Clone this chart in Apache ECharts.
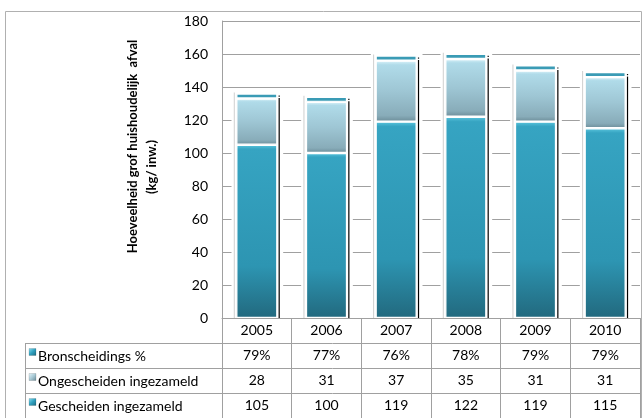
<!DOCTYPE html>
<html>
<head>
<meta charset="utf-8">
<script src="https://cdn.jsdelivr.net/npm/echarts@6/dist/echarts.min.js"></script>
<style>
html,body{margin:0;padding:0;background:#fff;}
#c{width:643px;height:418px;}
</style>
</head>
<body>
<div id="c"></div>
<script>
const years = ['2005', '2006', '2007', '2008', '2009', '2010'];
const gescheiden = [105, 100, 119, 122, 119, 115];
const ongescheiden = [28, 31, 37, 35, 31, 31];
const bronPct = [79, 77, 76, 78, 79, 79];
const seriesNames = ['Bronscheidings %', 'Ongescheiden ingezameld', 'Gescheiden ingezameld'];
const yMin = 0, yMax = 180, yStep = 20;

const FONT = 'Lato';
const GRID = '#a0a0a0';
const BAR_W = 0.59;
const BORDER = 1.2;
const CAP_MIN = 5.1;

const tealFill = new echarts.graphic.LinearGradient(0, 0, 0, 1, [
  {offset: 0, color: '#5cc6de'},
  {offset: 0.025, color: '#36a4c2'},
  {offset: 0.7, color: '#2d95b2'},
  {offset: 1, color: '#22697e'}
]);
const greyFill = new echarts.graphic.LinearGradient(0, 0, 0, 1, [
  {offset: 0, color: '#dcf3fa'},
  {offset: 0.07, color: '#b0dbe9'},
  {offset: 0.5, color: '#9ec6d4'},
  {offset: 0.9, color: '#88acb9'},
  {offset: 1, color: '#6c8d99'}
]);
const capFill = '#3a9bb5';

const totals = gescheiden.map((g, i) => g + ongescheiden[i]);
const decorData = totals.map((t, i) => [i, t]);

const rowVals = [
  bronPct.map(v => v + '%'),
  ongescheiden.map(String),
  gescheiden.map(String)
];

function valueAxis(offset, vals) {
  return {
    type: 'category', data: years, gridIndex: 0, position: 'bottom', offset: offset,
    axisLine: {show: false}, axisTick: {show: false}, splitLine: {show: false},
    axisLabel: {
      formatter: (v, i) => vals[i], margin: 0, lineHeight: 25,
      fontFamily: FONT, fontSize: 14, color: '#000', interval: 0
    }
  };
}

const chart = echarts.init(document.getElementById('c'), null, {renderer: 'canvas'});

const rowMids = [355.5, 380.5, 405.5];
const iconFills = [
  new echarts.graphic.LinearGradient(0, 0, 1, 1, [{offset: 0, color: '#8fe0f2'}, {offset: 0.5, color: '#2fa0bf'}, {offset: 1, color: '#1d6a80'}]),
  new echarts.graphic.LinearGradient(0, 0, 1, 1, [{offset: 0, color: '#e6f6fb'}, {offset: 0.5, color: '#a9cad6'}, {offset: 1, color: '#6b8b97'}]),
  new echarts.graphic.LinearGradient(0, 0, 1, 1, [{offset: 0, color: '#8fe0f2'}, {offset: 0.5, color: '#2fa0bf'}, {offset: 1, color: '#1d6a80'}])
];

const graphics = [
  {type: 'rect', shape: {x: 5.5, y: 11.5, width: 636, height: 420}, style: {fill: 'none', stroke: '#b0b0b0', lineWidth: 1}, silent: true, z: 0},
  {type: 'line', shape: {x1: 25.5, y1: 343, x2: 25.5, y2: 418}, style: {stroke: GRID, lineWidth: 1}, z: 5},
  {type: 'line', shape: {x1: 25, y1: 343.5, x2: 640, y2: 343.5}, style: {stroke: GRID, lineWidth: 1}, z: 5},
  {type: 'line', shape: {x1: 25, y1: 368.5, x2: 640, y2: 368.5}, style: {stroke: GRID, lineWidth: 1}, z: 5},
  {type: 'line', shape: {x1: 25, y1: 393.5, x2: 640, y2: 393.5}, style: {stroke: GRID, lineWidth: 1}, z: 5},
  {type: 'text', x: 133, y: 146.5, rotation: Math.PI / 2,
    style: {text: 'Hoeveelheid grof huishoudelijk  afval', fontFamily: FONT, fontWeight: 'bold', fontSize: 13, fill: '#000', align: 'center', verticalAlign: 'middle'}},
  {type: 'text', x: 152, y: 167, rotation: Math.PI / 2,
    style: {text: '(kg/ inw.)', fontFamily: FONT, fontWeight: 'bold', fontSize: 13, fill: '#000', align: 'center', verticalAlign: 'middle'}}
];
seriesNames.forEach((n, k) => {
  graphics.push({type: 'rect', shape: {x: 29, y: rowMids[k] - 7, width: 7, height: 7}, style: {fill: iconFills[k], stroke: 'rgba(0,0,0,0.25)', lineWidth: 0.5}, z: 6});
  graphics.push({type: 'text', x: 38, y: rowMids[k] + 1, style: {text: n, fontFamily: FONT, fontSize: 14, fill: '#000', align: 'left', verticalAlign: 'middle'}, z: 6});
});

const option = {
  animation: false,
  backgroundColor: '#fff',
  grid: {left: 222, right: 3, top: 21, bottom: 100, containLabel: false, show: false},
  xAxis: [
    {
      type: 'category', data: years, gridIndex: 0, position: 'bottom',
      axisLine: {show: true, lineStyle: {color: GRID, width: 1}},
      axisTick: {show: true, length: 100, interval: 0, alignWithLabel: false, lineStyle: {color: GRID, width: 1}},
      axisLabel: {margin: 0, lineHeight: 25, fontFamily: FONT, fontSize: 14, color: '#000', interval: 0},
      splitLine: {show: false}
    },
    valueAxis(25, rowVals[0]),
    valueAxis(50, rowVals[1]),
    valueAxis(75, rowVals[2])
  ],
  yAxis: {
    type: 'value', min: yMin, max: yMax, interval: yStep,
    axisLine: {show: true, lineStyle: {color: GRID, width: 1}},
    axisTick: {show: false},
    axisLabel: {margin: 14, fontFamily: FONT, fontSize: 14, color: '#000'},
    splitLine: {show: true, lineStyle: {color: GRID, width: 1}}
  },
  graphic: graphics,
  series: [
    {
      type: 'custom', name: 'decor', xAxisIndex: 0, yAxisIndex: 0, z: 1, silent: true,
      data: decorData,
      encode: {x: 0, y: 1},
      renderItem: function (params, api) {
        const idx = api.value(0);
        const bw = api.size([1, 0])[0] * BAR_W;
        const top = api.coord([idx, api.value(1)]);
        const base = api.coord([idx, 0]);
        const left = top[0] - bw / 2, right = top[0] + bw / 2;
        const capTop = top[1] - CAP_MIN;
        return {
          type: 'group',
          children: [
            {type: 'rect', shape: {x: left - 4.8, y: capTop - 3, width: bw + 10.6, height: base[1] - capTop + 3}, style: {fill: '#fff'}},
            {type: 'rect', shape: {x: left - 2.5, y: capTop - 1, width: 1, height: base[1] - capTop + 1}, style: {fill: '#cfcfcf'}},
            {type: 'rect', shape: {x: right + 1.2, y: top[1] - 0.5, width: 1.2, height: base[1] - top[1] + 0.5}, style: {fill: '#000'}},
            {type: 'rect', shape: {x: right + 1.2, y: capTop + 2, width: 1.2, height: 1.2}, style: {fill: '#000'}}
          ]
        };
      }
    },
    {
      name: 'Gescheiden ingezameld', type: 'bar', stack: 'tot', barWidth: (BAR_W * 100) + '%', z: 3,
      data: gescheiden,
      itemStyle: {color: tealFill, borderColor: '#fff', borderWidth: BORDER}
    },
    {
      name: 'Ongescheiden ingezameld', type: 'bar', stack: 'tot', z: 3,
      data: ongescheiden,
      itemStyle: {color: greyFill, borderColor: '#fff', borderWidth: BORDER}
    },
    {
      name: 'Bronscheidings %', type: 'bar', stack: 'tot', z: 3, barMinHeight: CAP_MIN,
      data: bronPct.map(v => v / 100),
      itemStyle: {color: capFill, borderColor: '#fff', borderWidth: BORDER}
    }
  ]
};
chart.setOption(option);
</script>
</body>
</html>
